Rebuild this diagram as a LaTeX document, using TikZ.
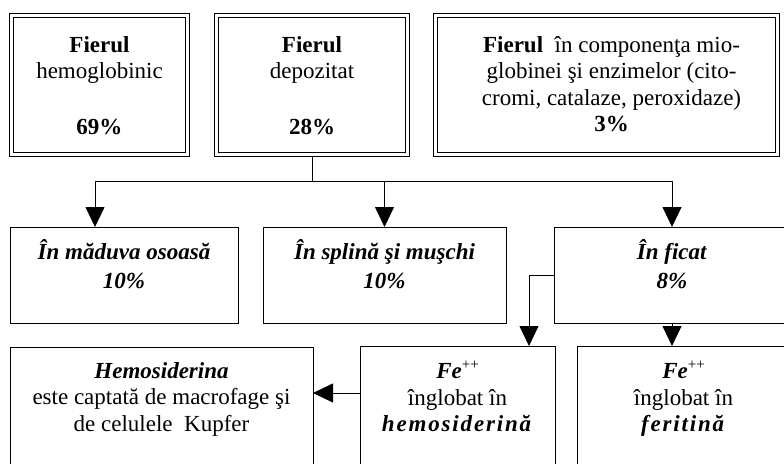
\documentclass[tikz,border=0pt]{standalone}
\usepackage{fontspec}
\setmainfont{Liberation Serif}
\usetikzlibrary{arrows.meta}
\newcommand{\bi}[1]{\textbf{\textit{#1}}}
\newcommand{\feplus}{\bi{Fe}\raisebox{9pt}{\fontsize{15}{15}\selectfont ++}}
\begin{document}
\begin{tikzpicture}[x=1pt,y=-1pt,
  font=\fontsize{23}{26.5}\selectfont,
  dblbox/.style={draw, double, line width=.7pt, double distance=3.2pt, outer sep=2.3pt, anchor=north west, minimum height=139.4pt},
  box/.style={draw, line width=.8pt, outer sep=0pt, anchor=north west},
  txt/.style={align=center, inner sep=0pt, anchor=north},
  arr/.style={line width=.8pt, -{Triangle[length=20pt,width=19pt]}}]
\useasboundingbox (0,0) rectangle (784,463);
\clip (0,0) rectangle (784,463);
% top row, double frames
\node[dblbox, minimum width=176.4pt] (hemog) at (9,13) {};
\node[dblbox, minimum width=191.4pt] (depot) at (214,13) {};
\node[dblbox, minimum width=342.4pt] (mioglob) at (433,13) {};
\node[txt] (hemogT) at ([yshift=-23pt]hemog.north) {\textbf{Fierul}\\hemoglobinic\\[29pt]\textbf{69\%}};
\node[txt] (depotT) at ([yshift=-23pt]depot.north) {\textbf{Fierul}\\depozitat\\[29pt]\textbf{28\%}};
\node[txt] (mioglobT) at ([yshift=-23pt,xshift=5pt]mioglob.north) {\textbf{Fierul}\ \ în componenţa mio-\\globinei şi enzimelor (cito-\\cromi, catalaze, peroxidaze)\\\textbf{3\%}};
% middle row
\node[box, minimum width=228pt, minimum height=96pt] (marrow) at (10,227) {};
\node[box, minimum width=243pt, minimum height=96pt] (spleen) at (263,227) {};
\node[box, minimum width=236pt, minimum height=96pt] (liver) at (554,227) {};
\node[txt] (marrowT) at ([yshift=-12pt]marrow.north) {\bi{În măduva osoasă}\\[2.5pt]\bi{10\%}};
\node[txt] (spleenT) at ([yshift=-12pt]spleen.north) {\bi{În splină şi muşchi}\\[2.5pt]\bi{10\%}};
\node[txt] (liverT) at ([yshift=-12pt]liver.north) {\bi{În ficat}\\[2.5pt]\bi{8\%}};
% bottom row
\node[box, minimum width=303pt, minimum height=140pt] (hemosid) at (10,347) {};
\node[box, minimum width=195pt, minimum height=134pt] (fehemo) at (360,346) {};
\node[box, minimum width=213pt, minimum height=134pt] (feferr) at (577,346) {};
\node[txt] (hemosidT) at ([yshift=-15pt]hemosid.north) {\bi{Hemosiderina}\\este captată de macrofage şi\\de celulele\ \ Kupfer};
\node[txt] (fehemoT) at ([yshift=-15pt]fehemo.north) {\feplus\\înglobat în\\\bi{\addfontfeature{LetterSpace=8}hemosiderină}};
\node[txt] (feferrT) at ([yshift=-15pt]feferr.north) {\feplus\\înglobat în\\\bi{\addfontfeature{LetterSpace=8}feritină}};
% connectors
\coordinate (split) at (depot.south |- 0,181);
\draw[line width=.8pt] (depot.south) -- (split);
\draw[arr] (split) -| ([xshift=85pt]marrow.north west);
\draw[arr] (split) -| (spleen.north);
\draw[arr] (split) -| (liver.north);
\draw[arr] (liver.west) -| ([xshift=-26pt]fehemo.north east);
\draw[arr] (liver.south) -- (liver.south |- feferr.north);
\draw[arr] ([yshift=20pt]fehemo.west) -- ([yshift=20pt]fehemo.west -| hemosid.east);
\end{tikzpicture}
\end{document}
